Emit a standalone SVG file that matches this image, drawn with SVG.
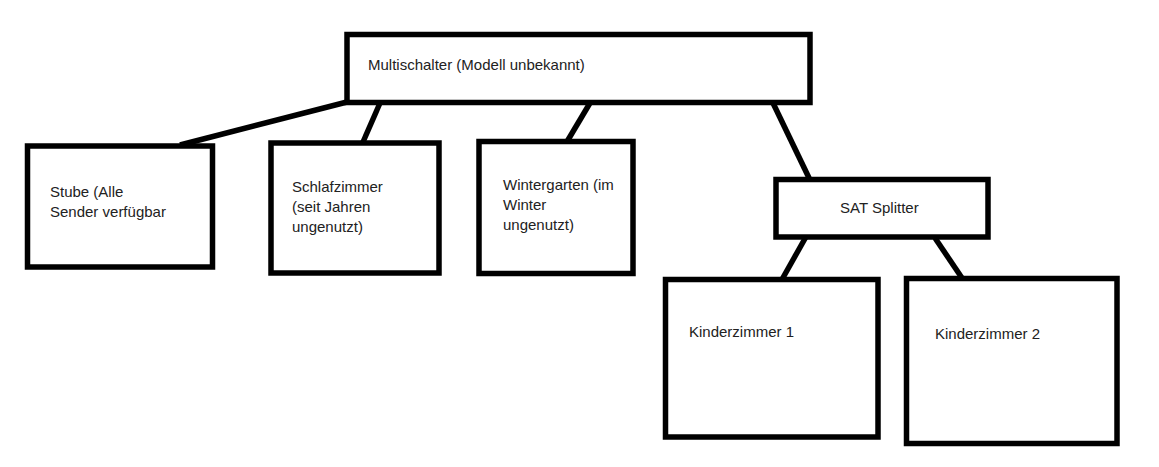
<svg xmlns="http://www.w3.org/2000/svg" width="1159" height="467" viewBox="0 0 1159 467">
<style>
.box{fill:#fff;stroke:#000;stroke-width:5.5}
.lbl{font-family:"Liberation Sans",Arial,sans-serif;font-size:15px;fill:#222}
.con{stroke:#000;stroke-width:5.5;fill:none;stroke-linecap:butt}
</style>
<rect width="1159" height="467" fill="#fff"/>
<g id="connectors">
<line class="con" x1="347" y1="102" x2="180" y2="145"/>
<line class="con" x1="380" y1="103" x2="363" y2="142"/>
<line class="con" x1="590" y1="103" x2="565" y2="145"/>
<line class="con" x1="773" y1="103" x2="810" y2="180"/>
<line class="con" x1="807" y1="235" x2="780" y2="283"/>
<line class="con" x1="935" y1="238" x2="962" y2="278"/>
</g>
<g id="multischalter">
<rect class="box" x="347" y="34.5" width="463" height="68"/>
<text class="lbl" x="368" y="70">Multischalter (Modell unbekannt)</text>
</g>
<g id="stube">
<rect class="box" x="27.5" y="146" width="185" height="121"/>
<text class="lbl" x="50" y="197">Stube (Alle</text>
<text class="lbl" x="50" y="217">Sender verfügbar</text>
</g>
<g id="schlafzimmer">
<rect class="box" x="271" y="143" width="168" height="130"/>
<text class="lbl" x="292" y="192">Schlafzimmer</text>
<text class="lbl" x="292" y="212">(seit Jahren</text>
<text class="lbl" x="292" y="232">ungenutzt)</text>
</g>
<g id="wintergarten">
<rect class="box" x="479" y="141.5" width="154" height="132"/>
<text class="lbl" x="503" y="190">Wintergarten (im</text>
<text class="lbl" x="503" y="210">Winter</text>
<text class="lbl" x="503" y="230">ungenutzt)</text>
</g>
<g id="splitter">
<rect class="box" x="776" y="179.5" width="212" height="57.5"/>
<text class="lbl" x="840" y="213">SAT Splitter</text>
</g>
<g id="kinderzimmer1">
<rect class="box" x="665.5" y="279.5" width="212.5" height="157.5"/>
<text class="lbl" x="689" y="337">Kinderzimmer 1</text>
</g>
<g id="kinderzimmer2">
<rect class="box" x="906.5" y="278.5" width="210.5" height="165"/>
<text class="lbl" x="935" y="339">Kinderzimmer 2</text>
</g>
</svg>
